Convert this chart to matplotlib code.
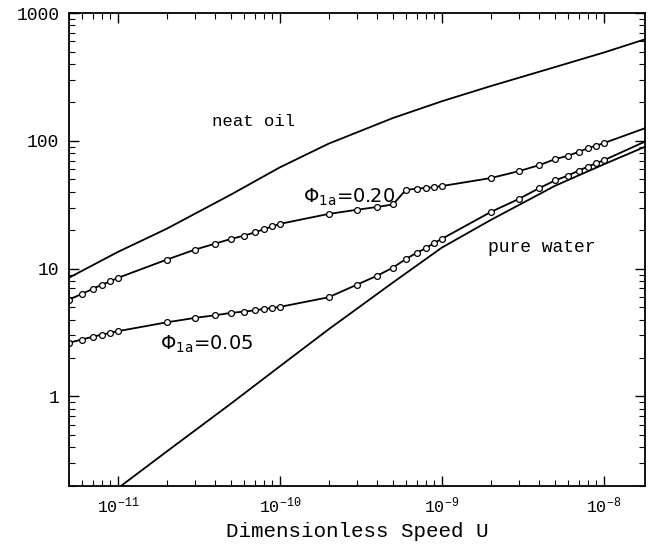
import matplotlib
matplotlib.use("Agg")
import matplotlib.pyplot as plt
import numpy as np

plt.rcParams['font.family'] = ['Liberation Mono', 'DejaVu Sans']
plt.rcParams['mathtext.default'] = 'regular'

# ----------------------------------Data---------------------------

# smooth curves (no markers)
oil_u = [5e-12, 1e-11, 2e-11, 5e-11, 1e-10, 2e-10, 5e-10, 1e-9, 2e-9, 5e-9, 1e-8, 1.8e-8]
oil_h = [8.5, 13.5, 20.5, 38.0, 62.0, 95.0, 151, 204, 268, 378, 491, 624]

water_u = [1.05e-11, 2e-11, 5e-11, 1e-10, 2e-10, 5e-10, 1e-9, 2e-9, 5e-9, 1e-8, 1.8e-8]
water_h = [0.2, 0.37, 0.88, 1.72, 3.35, 7.8, 14.6, 24.0, 44.5, 65.5, 90]

# emulsion curves, computed at 1..9 x each decade
emul_u = [5e-12, 6e-12, 7e-12, 8e-12, 9e-12,
          1e-11, 2e-11, 3e-11, 4e-11, 5e-11, 6e-11, 7e-11, 8e-11, 9e-11,
          1e-10, 2e-10, 3e-10, 4e-10, 5e-10, 6e-10, 7e-10, 8e-10, 9e-10,
          1e-9, 2e-9, 3e-9, 4e-9, 5e-9, 6e-9, 7e-9, 8e-9, 9e-9,
          1e-8]

phi20_h = [5.73, 6.34, 6.94, 7.50, 7.96,
           8.46, 11.75, 14.1, 15.7, 17.1, 18.1, 19.2, 20.4, 21.4,
           22.4, 26.8, 28.9, 30.4, 31.8, 41.4, 42.2, 42.9, 43.5,
           44.3, 51.1, 58.0, 64.6, 71.9, 76.4, 82.0, 87.7, 91.9,
           96.0]

phi05_h = [2.63, 2.79, 2.93, 3.05, 3.14,
           3.24, 3.80, 4.12, 4.32, 4.51, 4.61, 4.72, 4.84, 4.93,
           5.02, 5.97, 7.50, 8.82, 10.2, 11.9, 13.3, 14.5, 15.9,
           17.1, 27.7, 35.2, 42.7, 49.0, 53.5, 58.5, 63.0, 67.0,
           70.5]

# the emulsion lines run on past the last computed point to the frame
end_u = 1.8e-8
phi20_end = 125.7
phi05_end = 98.8

# ----------------------------------Figure---------------------------

fig = plt.figure(figsize=(6.54, 5.44), dpi=100)
ax = fig.add_axes([0.1055, 0.107, 0.881, 0.869])

ax.plot(oil_u, oil_h, color='black', lw=1.3)
ax.plot(water_u, water_h, color='black', lw=1.3)

ax.plot(emul_u + [end_u], phi20_h + [phi20_end], color='black', lw=1.3)
ax.plot(emul_u, phi20_h, 'o', ms=4.2, mfc='white', mec='black', mew=0.9)

ax.plot(emul_u + [end_u], phi05_h + [phi05_end], color='black', lw=1.3)
ax.plot(emul_u, phi05_h, 'o', ms=4.2, mfc='white', mec='black', mew=0.9)

ax.set_xscale('log')
ax.set_yscale('log')
ax.set_xlim(5e-12, 1.8e-8)
ax.set_ylim(0.2, 1000)

ax.set_xticks([1e-11, 1e-10, 1e-9, 1e-8])
ax.set_xticklabels([r'$10^{-11}$', r'$10^{-10}$', r'$10^{-9}$', r'$10^{-8}$'], fontsize=12)
ax.set_yticks([1, 10, 100, 1000])
ax.set_yticklabels(['1', '10', '100', '1000'], fontsize=13)

ax.tick_params(which='both', direction='in', top=True, right=True)
ax.tick_params(which='major', length=7, width=1.0, pad=7)
ax.tick_params(which='minor', length=4, width=0.8)
for s in ax.spines.values():
    s.set_linewidth(1.3)

ax.set_xlabel('Dimensionless Speed U', fontsize=15, labelpad=4)

ax.text(6.9e-11, 141, 'neat oil', fontsize=12.5, ha='center', va='center')
ax.text(4.15e-9, 14.6, 'pure water', fontsize=13, ha='center', va='center')
ax.text(1.4e-10, 35.9, r'$\Phi_{1a}$=0.20', fontsize=14, ha='left', va='center',
        family='DejaVu Sans')
ax.text(1.83e-11, 2.55, r'$\Phi_{1a}$=0.05', fontsize=14, ha='left', va='center',
        family='DejaVu Sans')

plt.savefig('out.png', dpi=100)
